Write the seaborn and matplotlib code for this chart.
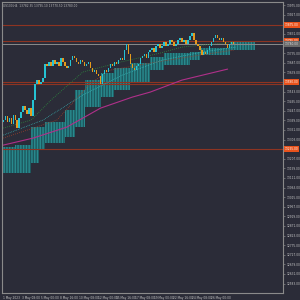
import numpy as np
import pandas as pd
import matplotlib
matplotlib.use("Agg")
import matplotlib.pyplot as plt
import seaborn as sns

# ---------------- data ----------------
close = [13400, 13420, 13390, 13410, 13380, 13425, 13400, 13360, 13410, 13440,
         13470, 13450, 13430, 13460, 13420, 13500, 13580, 13600, 13580, 13590,
         13610, 13680, 13670, 13690, 13670, 13700, 13680, 13690, 13670, 13710,
         13690, 13670, 13660, 13670, 13700, 13720, 13710, 13690, 13680, 13700,
         13690, 13670, 13680, 13690, 13660, 13640, 13650, 13630, 13620, 13580,
         13630, 13650, 13640, 13660, 13680, 13670, 13690, 13680, 13700, 13710,
         13700, 13750, 13780, 13730, 13680, 13660, 13650, 13670, 13680, 13710,
         13720, 13730, 13710, 13740, 13750, 13760, 13740, 13770, 13780, 13760,
         13770, 13790, 13770, 13780, 13800, 13790, 13770, 13780, 13800, 13810,
         13790, 13800, 13780, 13800, 13820, 13835, 13800, 13780, 13770, 13750,
         13725, 13740, 13730, 13750, 13770, 13790, 13810, 13825, 13810, 13800,
         13810, 13790, 13780, 13760, 13780, 13790, 13780, 13780]
open_ = [13390] + close[:-1]

cloud_bar = [0, 6, 14, 18, 21, 31, 36, 41, 49, 56, 64, 74, 81, 94, 99, 114, 127]
cloud_top = [13265, 13275, 13365, 13365, 13390, 13450, 13550, 13600, 13635, 13660,
             13685, 13715, 13735, 13740, 13760, 13790, 13790]
cloud_bot = [13135, 13135, 13185, 13250, 13285, 13315, 13365, 13465, 13515, 13550,
             13585, 13650, 13675, 13700, 13725, 13750, 13750]

green_bar = [0, 14, 24, 40, 59, 79, 90, 116]
green_val = [13360, 13400, 13500, 13640, 13690, 13735, 13765, 13790]
red_bar = [0, 27, 44, 54, 74, 99, 116]
red_val = [13310, 13400, 13585, 13650, 13685, 13725, 13750]
cyan_bar = [0, 20, 40, 60, 80, 100, 117]
cyan_val = [13325, 13400, 13525, 13625, 13700, 13740, 13765]
mag_bar = [0, 15, 32, 49, 65, 74, 90, 113]
mag_val = [13275, 13310, 13365, 13460, 13515, 13540, 13600, 13655]

levels = [13875, 13795, 13590, 13580, 13255]
level_labels = [13875, 13795, 13590, 13255]
current_price = 13780

ytick_vals = [13975 - 48 * k for k in range(30)]
xtick_pos = [0, 9.5, 19, 28.5, 38, 47.5, 57, 66.5, 76, 85.5, 95, 104.5]
xtick_labels = ["1 May 2023", "3 May 08:00", "5 May 00:00", "8 May 16:00",
                "10 May 08:00", "12 May 00:00", "15 May 16:00", "17 May 08:00",
                "19 May 00:00", "22 May 16:00", "24 May 08:00", "26 May 00:00"]
title = "US100,H4  13782.35 13795.10 13770.50 13780.00"

# ---------------- style ----------------
BG = "#2b2c38"
sns.set_theme(style="dark", rc={"axes.facecolor": BG, "figure.facecolor": BG})
plt.rcParams["font.family"] = ["DejaVu Sans"]
FS = 2.1

fig = plt.figure(figsize=(3, 3), dpi=100)
ax = fig.add_axes([0.006, 0.023, 0.938, 0.97])
ax.set_facecolor(BG)

# cloud
ax.fill_between(cloud_bar, cloud_bot, cloud_top, step="post",
                facecolor="#1c5d63", edgecolor="#2a9094", hatch="||||||",
                linewidth=0, alpha=0.9, zorder=1)

# indicator lines
df_g = pd.DataFrame({"bar": green_bar, "v": green_val})
df_r = pd.DataFrame({"bar": red_bar, "v": red_val})
df_c = pd.DataFrame({"bar": cyan_bar, "v": cyan_val})
df_m = pd.DataFrame({"bar": mag_bar, "v": mag_val})
sns.lineplot(data=df_g, x="bar", y="v", ax=ax, color="#2e8b3e", lw=0.6, linestyle=(0, (1, 1.5)), zorder=2)
sns.lineplot(data=df_r, x="bar", y="v", ax=ax, color="#a0402a", lw=0.6, linestyle=(0, (1, 1.5)), zorder=2)
sns.lineplot(data=df_c, x="bar", y="v", ax=ax, color="#3cc8c8", lw=0.5, linestyle=(0, (1, 1.5)), zorder=2)
sns.lineplot(data=df_m, x="bar", y="v", ax=ax, color="#b0308a", lw=0.8, zorder=2)

# horizontal levels
for lv in levels:
    ax.axhline(lv, color="#8e3422", lw=0.8, zorder=1.5)
ax.axhline(current_price, color="#8a8a8a", lw=0.7, zorder=1.5)

# candles
for i, (o, c) in enumerate(zip(open_, close)):
    col = "#25c3d3" if c >= o else "#e49a1c"
    lo, hi = min(o, c), max(o, c)
    if hi - lo < 3:
        hi = lo + 3
    ax.bar(i, hi - lo, bottom=lo, width=0.7, color=col, linewidth=0, zorder=3)

ax.set_xlim(-0.75, 141)
ax.set_ylim(12535, 13990)
ax.set_xlabel("")
ax.set_ylabel("")

# tick labels hidden where a price box sits on the scale
boxed = level_labels + [current_price]
ylabels = ["" if min(abs(v - b) for b in boxed) < 25 else f"{v:.2f}" for v in ytick_vals]
ax.yaxis.tick_right()
ax.set_yticks(ytick_vals)
ax.set_yticklabels(ylabels)
ax.set_xticks(xtick_pos)
ax.set_xticklabels(xtick_labels, ha="left")
ax.tick_params(axis="both", colors="#9a9a9a", labelcolor="#c8c8c8",
               labelsize=FS, length=1.5, width=0.4, pad=0.8)
for s in ax.spines.values():
    s.set_color("#8a8a8a")
    s.set_linewidth(0.8)
ax.grid(False)

# price boxes on right
for lv in level_labels:
    ax.annotate(f"{lv:.2f}", xy=(1.0, lv), xycoords=("axes fraction", "data"),
                xytext=(1.2, 0), textcoords="offset points", fontsize=FS,
                color="white", va="center", ha="left", annotation_clip=False,
                bbox=dict(boxstyle="square,pad=0.3", fc="#e8521c", ec="none"))
ax.annotate(f"{current_price:.2f}", xy=(1.0, current_price), xycoords=("axes fraction", "data"),
            xytext=(1.2, 0), textcoords="offset points", fontsize=FS,
            color="#dddddd", va="center", ha="left", annotation_clip=False,
            bbox=dict(boxstyle="square,pad=0.3", fc="#6a6a6a", ec="none"))

ax.text(0.005, 0.995, title, transform=ax.transAxes, fontsize=FS,
        color="#bbbbbb", va="top", ha="left")

fig.savefig("out.png", dpi=100, facecolor=BG)
